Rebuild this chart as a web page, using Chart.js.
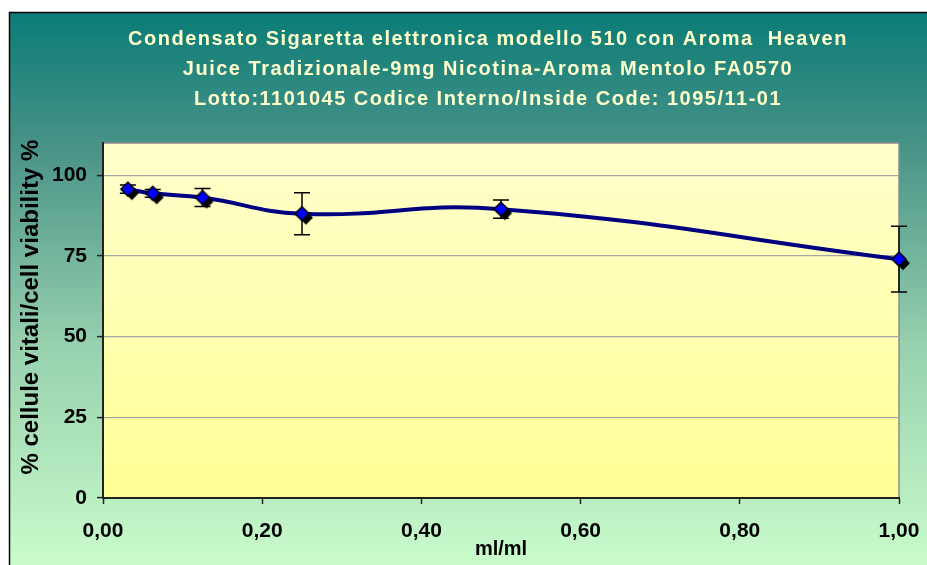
<!DOCTYPE html>
<html>
<head>
<meta charset="utf-8">
<script src="https://cdn.jsdelivr.net/npm/chart.js@4/dist/chart.umd.min.js"></script>
<style>
  html, body { margin: 0; padding: 0; background: #fff; }
  canvas { display: block; }
</style>
</head>
<body>
<canvas id="myChart" width="927" height="565"></canvas>
<script>
// data
var doses = [0.03125, 0.0625, 0.125, 0.25, 0.5, 1.0];          // ml/ml
var viability = [95.7, 94.4, 93.1, 88.1, 89.5, 74.0];          // % cellule vitali
var errors = [1.3, 1.2, 2.8, 6.5, 2.8, 10.2];                   // +/- error bars
var titleLines = [
  'Condensato Sigaretta elettronica modello 510 con Aroma  Heaven',
  'Juice Tradizionale-9mg Nicotina-Aroma Mentolo FA0570',
  'Lotto:1101045 Codice Interno/Inside Code: 1095/11-01'
];

var FONT = "'Liberation Sans', Arial, sans-serif";

// diamond marker with its little black shadow
function makeMarker() {
  var c = document.createElement('canvas');
  c.width = 28; c.height = 28;
  var g = c.getContext('2d');
  function diamond(cx, cy, r) {
    g.beginPath();
    g.moveTo(cx, cy - r); g.lineTo(cx + r, cy); g.lineTo(cx, cy + r); g.lineTo(cx - r, cy);
    g.closePath();
  }
  diamond(18, 18, 7);
  g.fillStyle = '#000'; g.fill();
  diamond(14, 14, 7);
  g.fillStyle = '#0000ff'; g.fill();
  g.lineWidth = 1.5; g.strokeStyle = '#000'; g.stroke();
  return c;
}

var backgrounds = {
  id: 'backgrounds',
  beforeDraw: function(chart) {
    var ctx = chart.ctx, a = chart.chartArea;
    ctx.save();
    ctx.fillStyle = '#fff';
    ctx.fillRect(0, 0, chart.width, chart.height);
    var g = ctx.createLinearGradient(0, 13, 0, chart.height);
    g.addColorStop(0, '#0b7c77');
    g.addColorStop(0.25, '#4a9488');
    g.addColorStop(0.6, '#96d0ae');
    g.addColorStop(1, '#cafccb');
    ctx.fillStyle = g;
    ctx.fillRect(10, 13, chart.width - 10, chart.height - 13);
    ctx.strokeStyle = '#000';
    ctx.lineWidth = 1.5;
    ctx.beginPath();
    ctx.moveTo(9.5, chart.height); ctx.lineTo(9.5, 12.5); ctx.lineTo(chart.width, 12.5);
    ctx.stroke();
    var p = ctx.createLinearGradient(0, a.top, 0, a.bottom);
    p.addColorStop(0, '#ffffcc');
    p.addColorStop(1, '#ffff96');
    ctx.fillStyle = p;
    ctx.fillRect(a.left, a.top, a.right - a.left, a.bottom - a.top);
    ctx.strokeStyle = '#8c8c8c';
    ctx.lineWidth = 1.5;
    ctx.strokeRect(a.left, a.top, a.right - a.left, a.bottom - a.top);

    // title, slightly spaced like the original
    ctx.fillStyle = '#ffffcc';
    ctx.font = 'bold 20px ' + FONT;
    ctx.textAlign = 'center';
    ctx.textBaseline = 'middle';
    if ('letterSpacing' in ctx) ctx.letterSpacing = '1.5px';
    titleLines.forEach(function(t, i) {
      ctx.fillText(t, 488, 39 + i * 30);
    });
    ctx.restore();
  }
};

var errorBars = {
  id: 'errorBars',
  beforeDatasetsDraw: function(chart) {
    var ctx = chart.ctx, xs = chart.scales.x, ys = chart.scales.y;
    ctx.save();
    ctx.strokeStyle = '#000';
    ctx.lineWidth = 1.5;
    for (var i = 0; i < doses.length; i++) {
      var x = xs.getPixelForValue(doses[i]);
      var top = ys.getPixelForValue(viability[i] + errors[i]);
      var bot = ys.getPixelForValue(viability[i] - errors[i]);
      ctx.beginPath();
      ctx.moveTo(x, top); ctx.lineTo(x, bot);
      ctx.moveTo(x - 8, top); ctx.lineTo(x + 8, top);
      ctx.moveTo(x - 8, bot); ctx.lineTo(x + 8, bot);
      ctx.stroke();
    }
    ctx.restore();
  }
};

var ctx = document.getElementById('myChart').getContext('2d');
var myChart = new Chart(ctx, {
  type: 'line',
  data: {
    datasets: [{
      label: 'viability',
      data: doses.map(function(d, i) { return { x: d, y: viability[i] }; }),
      borderColor: '#000080',
      borderWidth: 4,
      tension: 0.45,
      pointStyle: makeMarker(),
      pointRadius: 7,
      clip: false,
      fill: false
    }]
  },
  options: {
    responsive: false,
    animation: false,
    layout: { autoPadding: false, padding: { left: 10, top: 143, right: 28, bottom: 0 } },
    plugins: {
      legend: { display: false },
      tooltip: { enabled: false },
      title: { display: false }
    },
    scales: {
      x: {
        type: 'linear',
        min: 0,
        max: 1,
        afterFit: function(s) { s.height = 67; s.paddingLeft = 0; s.paddingRight = 0; },
        ticks: {
          stepSize: 0.2,
          color: '#000',
          padding: 15,
          maxRotation: 0,
          font: { family: FONT, size: 21, weight: 'bold' },
          callback: function(v) { return v.toFixed(2).replace('.', ','); }
        },
        grid: { drawOnChartArea: false, drawTicks: true, tickLength: 6, tickColor: '#222', tickWidth: 1.5 },
        border: { color: '#222', width: 2 },
        title: {
          display: true,
          text: 'ml/ml',
          color: '#000',
          font: { family: FONT, size: 20, weight: 'bold' },
          padding: { top: 0, bottom: 4 }
        }
      },
      y: {
        min: 0,
        max: 110,
        afterFit: function(s) { s.width = 93; s.paddingTop = 0; s.paddingBottom = 0; },
        ticks: {
          stepSize: 25,
          includeBounds: false,
          color: '#000',
          padding: 10,
          font: { family: FONT, size: 21, weight: 'bold' }
        },
        grid: { color: '#a6a6a6', lineWidth: 1.2, tickLength: 6, tickColor: '#222', tickWidth: 1.5 },
        border: { color: '#222', width: 2 },
        title: {
          display: true,
          text: '    % cellule vitali/cell viability %',
          color: '#000',
          font: { family: FONT, size: 24, weight: 'bold' },
          padding: { top: 7, bottom: 0 }
        }
      }
    }
  },
  plugins: [backgrounds, errorBars]
});
</script>
</body>
</html>
